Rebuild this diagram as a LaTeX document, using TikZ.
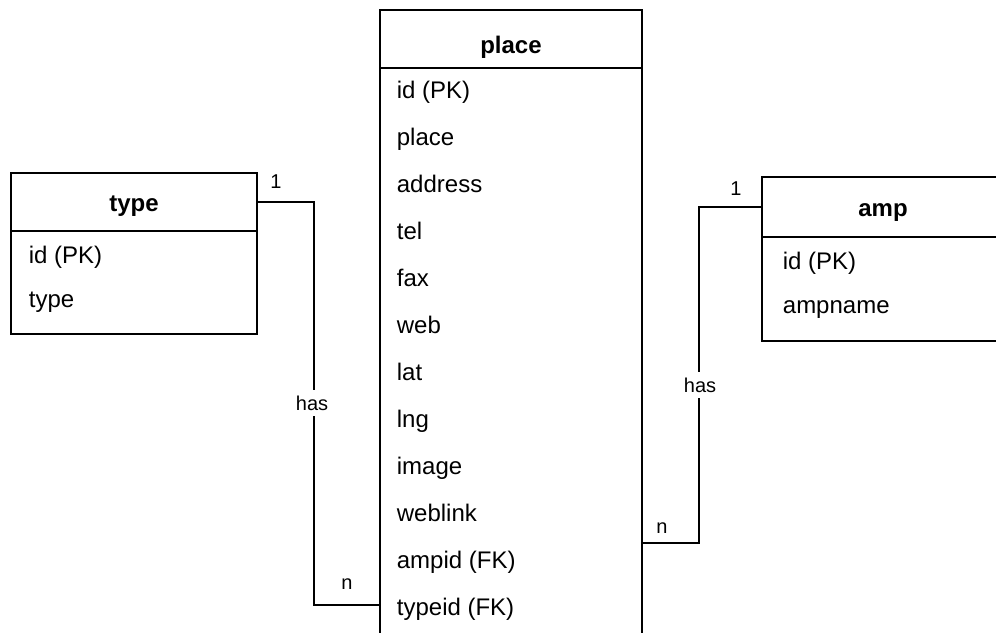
\documentclass[tikz,border=0pt]{standalone}
\usepackage{fontspec}
\setmainfont{Liberation Sans}
\begin{document}
\begin{tikzpicture}[x=1pt,y=-1pt,line width=1.8pt,
  box/.style={draw,rectangle,inner sep=0pt,outer sep=0pt},
  hdr/.style={inner sep=0pt,font=\fontsize{24}{28}\selectfont\bfseries},
  fld/.style={anchor=base west,inner sep=0pt,font=\fontsize{24}{28}\selectfont},
  lbl/.style={inner sep=0pt,font=\fontsize{20}{24}\selectfont},
  gap/.style={fill=white,inner xsep=2pt,inner ysep=6pt,font=\fontsize{20}{24}\selectfont}]
\useasboundingbox (0,0) rectangle (996,632);
\clip (0,0) rectangle (996,632);
\fill[white] (0,0) rectangle (996,632);
% type entity
\node[box,minimum width=246pt,minimum height=58pt] (typeh) at (134,202) {};
\node[box,minimum width=246pt,minimum height=103pt] (typeb) at (134,282.5) {};
\node[hdr] (typet) at (134,206) {type};
\node[fld] (tf1) at (28,263) {id (PK)};
\node[fld] (tf2) at (28,307) {type};
% place entity
\node[box,minimum width=262pt,minimum height=58pt] (placeh) at (511,39) {};
\node[box,minimum width=262pt,minimum height=600pt] (placeb) at (511,368) {};
\node[hdr] (placet) at (511,47) {place};
\foreach \t [count=\i from 0] in {id (PK),place,address,tel,fax,web,lat,lng,image,weblink,ampid (FK),typeid (FK)}
  \node[fld] (pf\i) at (396,{98+47*\i}) {\t};
% amp entity
\node[box,minimum width=248pt,minimum height=60pt] (amph) at (886,207) {};
\node[box,minimum width=248pt,minimum height=104pt] (ampb) at (886,289) {};
\node[hdr] (ampt) at (883,213) {amp};
\node[fld] (af1) at (782,269) {id (PK)};
\node[fld] (af2) at (782,313) {ampname};
% connectors
\coordinate (kL) at (314,605);
\coordinate (kR) at (699,543);
\draw (typeh.east) -| (kL) -- (placeb.west |- kL);
\draw (placeb.east |- kR) -- (kR) |- (amph.west);
\node[gap] (has1) at (312,403) {has};
\node[gap] (has2) at (700,385) {has};
\node[lbl] (one1) at (276,182) {1};
\node[lbl] (n1) at (347,584) {n};
\node[lbl] (one2) at (736,189) {1};
\node[lbl] (n2) at (662,528) {n};
\end{tikzpicture}
\end{document}
